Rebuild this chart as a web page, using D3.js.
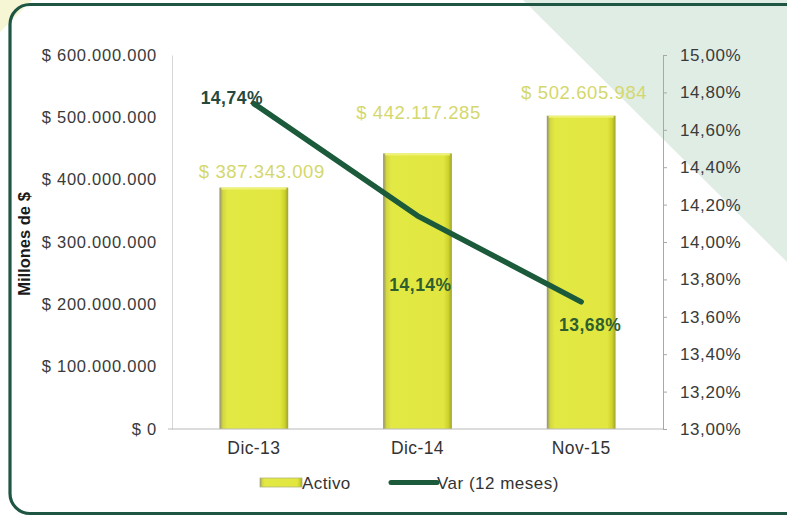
<!DOCTYPE html>
<html lang="es">
<head>
  <meta charset="UTF-8">
  <title>Activo y Var (12 meses)</title>
  <script src="https://d3js.org/d3.v7.min.js"></script>
  <style>
    body { margin: 0; background: #fff; font-family: Arial, "Liberation Sans", sans-serif; }
    svg { display: block; }
  </style>
</head>
<body>
  <div id="chart"></div>
  <script>
    // datos
    const categorias = ["Dic-13", "Dic-14", "Nov-15"];
    const activo = [387343009, 442117285, 502605984];
    const variacion = [14.74, 14.14, 13.68];
    const ticksIzq = [0, 100000000, 200000000, 300000000, 400000000, 500000000, 600000000];
    const ticksDer = [13.0, 13.2, 13.4, 13.6, 13.8, 14.0, 14.2, 14.4, 14.6, 14.8, 15.0];

    // desplazamiento de etiquetas (como en el original, movidas a mano)
    const offValor = [[8, -16], [1, -41], [3, -23]];
    const offVar = [[-22, -6], [3, 69], [9, 23]];

    const W = 787, H = 517;
    const margin = {top: 55, right: 124, bottom: 88, left: 172};
    const width = W - margin.left - margin.right,
          height = H - margin.top - margin.bottom;

    const loc = d3.formatLocale({decimal: ",", thousands: ".", grouping: [3], currency: ["$ ", ""]});
    const fmtPesos = v => "$ " + loc.format(",.0f")(v);
    const fmtPct = loc.format(".2f");

    const root = d3.select("#chart").append("svg")
      .attr("width", W).attr("height", H);

    const defs = root.append("defs");
    const grad = defs.append("linearGradient").attr("id", "barra")
      .attr("x1", "0%").attr("x2", "100%").attr("y1", "0%").attr("y2", "0%");
    [["0%", "#8f8f72"], ["5%", "#d3d741"], ["12%", "#e3e944"], ["88%", "#e1e73f"], ["95%", "#cdd12c"], ["100%", "#9fa230"]]
      .forEach(s => grad.append("stop").attr("offset", s[0]).attr("stop-color", s[1]));

    // fondo decorativo
    root.append("path").attr("d", "M0,0 L32,0 L0,32 Z").attr("fill", "#f6f5d4");
    root.append("path").attr("d", `M523,0 L${W},0 L${W},262 Z`).attr("fill", "#e0ede5");
    root.append("rect")
      .attr("x", 10).attr("y", 4.5).attr("width", 800).attr("height", 509)
      .attr("rx", 20).attr("fill", "none")
      .attr("stroke", "#1f5643").attr("stroke-width", 3.2);

    const svg = root.append("g").attr("transform", `translate(${margin.left},${margin.top})`);

    const x = d3.scaleBand().domain(categorias).range([0, width]).paddingInner(0.58).paddingOuter(0.29);
    const xc = d3.scaleBand().domain(categorias).range([0, width]);
    const y = d3.scaleLinear().domain([0, 600000000]).range([height, 0]);
    const y2 = d3.scaleLinear().domain([13, 15]).range([height, 0]);

    // eje izquierdo
    const ejeIzq = svg.append("g")
      .call(d3.axisLeft(y).tickValues(ticksIzq).tickSize(0).tickPadding(15).tickFormat(fmtPesos));
    ejeIzq.select(".domain").attr("stroke", "#d6d6d6");
    ejeIzq.selectAll("text").style("font-size", "16.5px").style("fill", "#3a3a3a")
      .style("letter-spacing", "0.75px")
      .style("font-family", "Arial, 'Liberation Sans', sans-serif");

    // eje derecho
    const ejeDer = svg.append("g").attr("transform", `translate(${width},0)`)
      .call(d3.axisRight(y2).tickValues(ticksDer).tickSize(4).tickSizeOuter(4).tickPadding(13)
        .tickFormat(d => fmtPct(d) + "%"));
    ejeDer.select(".domain").attr("stroke", "#a8a8a8");
    ejeDer.selectAll("line").attr("stroke", "#a8a8a8");
    ejeDer.selectAll("text").style("font-size", "17px").style("fill", "#3a3a3a")
      .style("letter-spacing", "0.6px")
      .style("font-family", "Arial, 'Liberation Sans', sans-serif");

    // barras
    svg.selectAll(".bar").data(categorias).enter().append("rect")
      .attr("class", "bar")
      .attr("x", d => x(d))
      .attr("y", (d, i) => y(activo[i]))
      .attr("width", x.bandwidth())
      .attr("height", (d, i) => height - y(activo[i]))
      .attr("fill", "url(#barra)");
    svg.selectAll(".bartop").data(categorias).enter().append("rect")
      .attr("x", d => x(d) + 2)
      .attr("y", (d, i) => y(activo[i]))
      .attr("width", x.bandwidth() - 4)
      .attr("height", 2)
      .attr("fill", "#eef27a");

    // eje inferior
    const ejeInf = svg.append("g").attr("transform", `translate(0,${height})`)
      .call(d3.axisBottom(xc).tickSize(0).tickPadding(13));
    ejeInf.select(".domain").attr("d", `M-4,0H${width}`).attr("stroke", "#b9b9b9");
    ejeInf.selectAll("text").style("font-size", "17.5px").style("fill", "#333")
      .style("letter-spacing", "0.4px")
      .style("font-family", "Arial, 'Liberation Sans', sans-serif");

    // etiquetas de valor
    svg.selectAll(".valor").data(categorias).enter().append("text")
      .attr("x", (d, i) => xc(d) + xc.bandwidth() / 2 + offValor[i][0])
      .attr("y", (d, i) => y(activo[i]) + offValor[i][1])
      .attr("dy", "0.35em")
      .attr("text-anchor", "middle")
      .style("font-size", "18.5px").style("fill", "#d4d86c")
      .style("letter-spacing", "0.6px")
      .text((d, i) => fmtPesos(activo[i]));

    // linea de variacion
    const linea = d3.line()
      .x(d => xc(d) + xc.bandwidth() / 2)
      .y((d, i) => y2(variacion[i]));
    svg.append("path").datum(categorias)
      .attr("d", linea)
      .attr("fill", "none")
      .attr("stroke", "#1b5a3b")
      .attr("stroke-width", 5.5)
      .attr("stroke-linecap", "round")
      .attr("stroke-linejoin", "round");

    svg.selectAll(".var").data(categorias).enter().append("text")
      .attr("x", (d, i) => xc(d) + xc.bandwidth() / 2 + offVar[i][0])
      .attr("y", (d, i) => y2(variacion[i]) + offVar[i][1])
      .attr("dy", "0.35em")
      .attr("text-anchor", "middle")
      .style("font-size", "17.5px").style("font-weight", "bold")
      .style("letter-spacing", "0.5px")
      .style("fill", (d, i) => i === 0 ? "#25493c" : "#2f5f2e")
      .text((d, i) => fmtPct(variacion[i]) + "%");

    // titulo eje y
    root.append("text")
      .attr("transform", "translate(24,244) rotate(-90)")
      .attr("text-anchor", "middle").attr("dy", "0.35em")
      .style("font-size", "16.5px").style("font-weight", "bold").style("fill", "#1a1a1a")
      .text("Millones de $");

    // leyenda
    const ley = root.append("g");
    ley.append("rect").attr("x", 260).attr("y", 478).attr("width", 42).attr("height", 9)
      .attr("fill", "url(#barra)").attr("stroke", "#b5b77a").attr("stroke-width", 0.8);
    ley.append("text").attr("x", 302).attr("y", 483).attr("dy", "0.35em")
      .style("font-size", "17px").style("fill", "#333").style("letter-spacing", "0.4px").text("Activo");
    ley.append("line").attr("x1", 391).attr("x2", 437).attr("y1", 482.5).attr("y2", 482.5)
      .attr("stroke", "#1b5a3b").attr("stroke-width", 5).attr("stroke-linecap", "round");
    ley.append("text").attr("x", 437).attr("y", 483).attr("dy", "0.35em")
      .style("font-size", "17px").style("fill", "#333").style("letter-spacing", "0.5px").text("Var (12 meses)");
  </script>
</body>
</html>
